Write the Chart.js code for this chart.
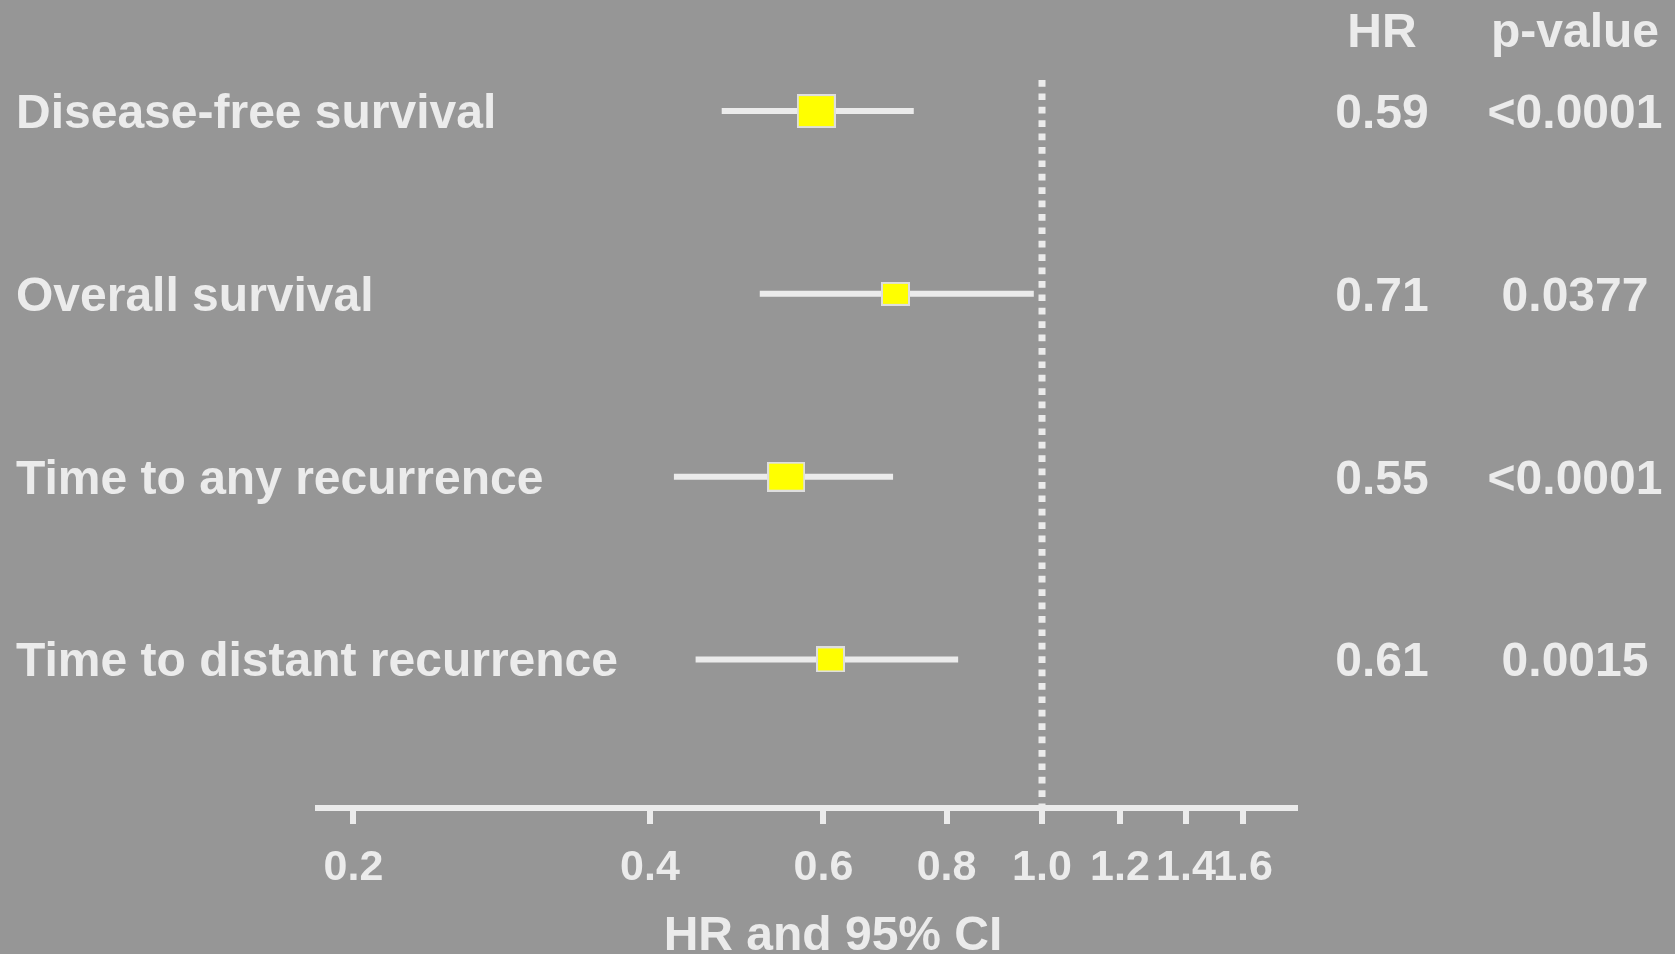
<!DOCTYPE html>
<html>
<head>
<meta charset="utf-8">
<title>Forest plot – HR and 95% CI</title>
<script src="https://cdn.jsdelivr.net/npm/chart.js@4.4.1/dist/chart.umd.min.js"></script>
<style>
  html, body { margin: 0; padding: 0; background: #969696; }
  canvas { display: block; }
</style>
</head>
<body>
<canvas id="forest" width="1675" height="954"></canvas>
<script>
// ---------------------------------------------------------
// DATA
// ---------------------------------------------------------
const outcomes = [
  "Disease-free survival",
  "Overall survival",
  "Time to any recurrence",
  "Time to distant recurrence"
];
const hr = [0.59, 0.71, 0.55, 0.61];
const ciLow = [0.473, 0.517, 0.423, 0.445];
const ciHigh = [0.741, 0.981, 0.706, 0.822];
const pValues = ["<0.0001", "0.0377", "<0.0001", "0.0015"];
const tickValues = [0.2, 0.4, 0.6, 0.8, 1.0, 1.2, 1.4, 1.6];

// ---------------------------------------------------------
// STYLE
// ---------------------------------------------------------
const FG = "#ebebeb";
const FONT = "'Liberation Sans', Arial, sans-serif";
const boxSizes = [[39, 34], [29, 24], [38, 30], [29, 26]]; // w, h

function makeBox(w, h) {
  const c = document.createElement("canvas");
  c.width = w;
  c.height = h;
  const g = c.getContext("2d");
  g.fillStyle = "#dedede";
  g.fillRect(0, 0, w, h);
  g.fillStyle = "#ffff00";
  g.fillRect(2, 2, w - 4, h - 4);
  return c;
}
const boxes = boxSizes.map(s => makeBox(s[0], s[1]));

// ---------------------------------------------------------
// TEXT COLUMNS (labels, HR, p-value, axis title)
// ---------------------------------------------------------
const textPlugin = {
  id: "forestText",
  afterDraw(chart) {
    const ctx = chart.ctx;
    const y = chart.scales.y;
    ctx.save();
    ctx.fillStyle = FG;
    ctx.font = `bold 48px ${FONT}`;

    // headers
    ctx.textBaseline = "alphabetic";
    ctx.textAlign = "center";
    ctx.fillText("HR", 1382, 47);
    ctx.fillText("p-value", 1575, 47);

    // rows (baseline sits ~17px below the row centre)
    outcomes.forEach((name, i) => {
      const py = y.getPixelForValue(i) + 17;
      ctx.textAlign = "left";
      ctx.fillText(name, 16, py);
      ctx.textAlign = "center";
      ctx.fillText(hr[i].toFixed(2), 1382, py);
      ctx.fillText(pValues[i], 1575, py);
    });

    // axis title
    ctx.fillText("HR and 95% CI", 833, 950);
    ctx.restore();
  }
};

// ---------------------------------------------------------
// DATASETS
// ---------------------------------------------------------
const Y_MIN = -0.17;
const Y_MAX = 3.813;

const pointSet = {
  type: "scatter",
  data: hr.map((v, i) => ({ x: v, y: i })),
  pointStyle: boxes,
  pointRadius: 20,
  showLine: false
};

const ciSets = outcomes.map((name, i) => ({
  type: "line",
  label: name,
  data: [{ x: ciLow[i], y: i }, { x: ciHigh[i], y: i }],
  borderColor: FG,
  borderWidth: 6,
  borderCapStyle: "butt",
  pointRadius: 0,
  fill: false
}));

const refSet = {
  type: "line",
  data: [{ x: 1, y: Y_MIN }, { x: 1, y: Y_MAX }],
  borderColor: FG,
  borderWidth: 7,
  borderDash: [6.7, 6.7],
  borderCapStyle: "butt",
  pointRadius: 0,
  fill: false
};

// ---------------------------------------------------------
// CHART
// ---------------------------------------------------------
new Chart(document.getElementById("forest"), {
  type: "scatter",
  data: { datasets: [pointSet, ...ciSets, refSet] },
  options: {
    responsive: false,
    animation: false,
    devicePixelRatio: 1,
    layout: { padding: { left: 318, right: 380, top: 80, bottom: 0 } },
    plugins: {
      legend: { display: false },
      tooltip: { enabled: false }
    },
    scales: {
      x: {
        type: "logarithmic",
        min: 0.1841,
        max: 1.8064,
        bounds: "data",
        afterBuildTicks: s => { s.ticks = tickValues.map(v => ({ value: v })); },
        afterFit: s => { s.height = 146; },
        border: { display: true, color: FG, width: 6 },
        grid: {
          drawOnChartArea: false,
          drawTicks: true,
          tickLength: 16,
          tickWidth: 6,
          tickColor: FG,
          color: FG,
          lineWidth: 6
        },
        ticks: {
          autoSkip: false,
          maxRotation: 0,
          padding: 18,
          color: FG,
          font: { family: FONT, size: 43, weight: "bold" },
          callback: v => Number(v).toFixed(1)
        }
      },
      y: {
        type: "linear",
        display: false,
        reverse: true,
        min: Y_MIN,
        max: Y_MAX
      }
    }
  },
  plugins: [textPlugin]
});
</script>
</body>
</html>
